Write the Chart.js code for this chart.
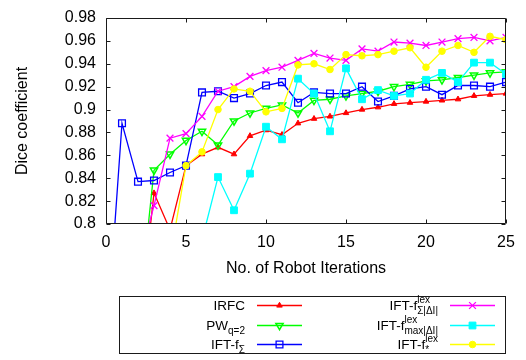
<!DOCTYPE html>
<html><head><meta charset="utf-8">
<script src="https://cdn.jsdelivr.net/npm/chart.js@4/dist/chart.umd.min.js"></script>
<style>html,body{margin:0;padding:0;background:#fff}#wrap{width:526px;height:360px}</style>
</head><body><div id="wrap"><canvas id="c" width="526" height="360"></canvas></div>
<script>
const iterations = [0,1,2,3,4,5,6,7,8,9,10,11,12,13,14,15,16,17,18,19,20,21,22,23,24,25];
const irfc   = [null,null,0.700,0.827,0.795,0.851,0.861,0.867,0.861,0.877,0.882,0.878,0.888,0.892,0.894,0.897,0.900,0.902,0.905,0.906,0.907,0.908,0.909,0.912,0.913,0.914];
const pwq2   = [null,null,0.713,0.847,0.861,0.873,0.881,0.869,0.890,0.897,0.901,0.904,0.897,0.908,0.909,0.912,0.914,0.916,0.920,0.922,0.925,0.926,0.928,0.930,0.932,0.933];
const iftSum = [0.690,0.888,0.837,0.838,0.845,0.851,0.915,0.916,0.910,0.914,0.921,0.924,0.906,0.915,0.914,0.914,0.920,0.907,0.912,0.918,0.920,0.913,0.921,0.921,0.920,0.924];
const iftLexSum = [null,null,0.763,0.816,0.875,0.879,0.894,0.916,0.920,0.929,0.934,0.937,0.943,0.949,0.945,0.943,0.953,0.951,0.959,0.958,0.956,0.959,0.962,0.963,0.960,0.963];
const iftLexMax = [null,null,null,null,null,null,0.786,0.841,0.812,0.844,0.885,0.874,0.927,0.914,0.881,0.936,0.909,0.917,0.912,0.914,0.926,0.932,0.924,0.941,0.941,0.931];
const iftLexStar = [null,null,null,null,0.770,0.851,0.863,0.900,0.918,0.916,0.898,0.901,0.939,0.940,0.935,0.948,0.947,0.948,0.951,0.954,0.937,0.951,0.956,0.950,0.964,0.961];

const xTicks = [0,5,10,15,20,25];
const xTickLabels = ['0','5','10','15','20','25'];
const yTicks = [0.8,0.82,0.84,0.86,0.88,0.9,0.92,0.94,0.96,0.98];
const yTickLabels = ['0.8','0.82','0.84','0.86','0.88','0.9','0.92','0.94','0.96','0.98'];

const legendEntries = [
  {main:'IRFC', sup:'', sub:''},
  {main:'PW', sup:'', sub:'q=2'},
  {main:'IFT-f', sup:'', sub:'Σ'},
  {main:'IFT-f', sup:'lex', sub:'Σ|ΔI|'},
  {main:'IFT-f', sup:'lex', sub:'max|ΔI|'},
  {main:'IFT-f', sup:'lex', sub:'*'}
];

const FONT = '"Liberation Sans", Arial, Helvetica, sans-serif';

function pts(arr){ return iterations.map((x,i)=>({x:x, y:arr[i]})); }

const styles = [
  {c:'#ff0000', ps:'triangle', r:3.2, rot:0, fill:true, bw:1},
  {c:'#00ff00', ps:'triangle', r:4.2, rot:180, fill:false, bw:1.5},
  {c:'#0000ff', ps:'rect', r:4.8, rot:0, fill:false, bw:1.3},
  {c:'#ff00ff', ps:'crossRot', r:4.8, rot:0, fill:false, bw:1.3},
  {c:'#00ffff', ps:'rect', r:4.8, rot:0, fill:true, bw:1},
  {c:'#ffff00', ps:'circle', r:3.3, rot:0, fill:true, bw:1}
];
const seriesData = [irfc, pwq2, iftSum, iftLexSum, iftLexMax, iftLexStar];

const datasets = seriesData.map((d,i)=>{
  const s = styles[i];
  return {
    label: legendEntries[i].main + legendEntries[i].sup + legendEntries[i].sub,
    data: pts(d),
    borderColor: s.c,
    backgroundColor: s.c,
    borderWidth: 1.3,
    pointStyle: s.ps,
    pointRadius: s.r,
    pointRotation: s.rot,
    pointBorderColor: s.c,
    pointBackgroundColor: s.fill ? s.c : 'rgba(0,0,0,0)',
    pointBorderWidth: s.bw,
    tension: 0,
    spanGaps: false,
    clip: 0,
    order: 5 - i
  };
});

const framePlugin = {
  id: 'frame',
  afterDatasetsDraw(chart){
    const ctx = chart.ctx, a = chart.chartArea;
    const xs = chart.scales.x, ys = chart.scales.y;
    const L = Math.round(a.left)+0.5, R = Math.round(a.right)-0.5, T = Math.round(a.top)+0.5, B = Math.round(a.bottom)-0.5;
    ctx.save();
    ctx.strokeStyle = '#1a1a1a';
    ctx.lineWidth = 1;
    ctx.beginPath();
    ctx.rect(L, T, R-L, B-T);
    const tl = 4;
    xTicks.forEach(v=>{
      const px = Math.round(xs.getPixelForValue(v))+0.5;
      ctx.moveTo(px, B); ctx.lineTo(px, B-tl);
      ctx.moveTo(px, T); ctx.lineTo(px, T+tl);
    });
    yTicks.forEach(v=>{
      const py = Math.round(ys.getPixelForValue(v))+0.5;
      ctx.moveTo(L, py); ctx.lineTo(L+tl, py);
      ctx.moveTo(R, py); ctx.lineTo(R-tl, py);
    });
    ctx.stroke();
    ctx.restore();
  },
  afterDraw(chart){
    const ctx = chart.ctx;
    ctx.save();
    // legend box
    ctx.strokeStyle = '#1a1a1a';
    ctx.lineWidth = 1;
    ctx.strokeRect(119.5, 296.5, 386, 57);
    const cols = [{tr:245, l0:257, l1:302},{tr:438, l0:450, l1:495}];
    const rows = [305, 325, 344];
    const mainFont = '13.5px ' + FONT, smallFont = '10px ' + FONT;
    legendEntries.forEach((e,i)=>{
      const col = cols[Math.floor(i/3)], y = rows[i%3];
      ctx.font = mainFont;
      const wm = ctx.measureText(e.main).width;
      ctx.font = smallFont;
      const ws = Math.max(e.sup ? ctx.measureText(e.sup).width : 0, e.sub ? ctx.measureText(e.sub).width : 0);
      const x0 = col.tr - wm - ws;
      ctx.fillStyle = '#000';
      ctx.textAlign = 'left';
      ctx.textBaseline = 'alphabetic';
      ctx.font = mainFont;
      ctx.fillText(e.main, x0, y + 5);
      ctx.font = smallFont;
      if (e.sup) ctx.fillText(e.sup, x0 + wm, y - 2);
      if (e.sub) ctx.fillText(e.sub, x0 + wm, y + 9);
      const ds = chart.data.datasets[i];
      ctx.strokeStyle = ds.borderColor;
      ctx.lineWidth = ds.borderWidth;
      ctx.beginPath(); ctx.moveTo(col.l0, y+0.5); ctx.lineTo(col.l1, y+0.5); ctx.stroke();
      ctx.fillStyle = ds.pointBackgroundColor;
      ctx.strokeStyle = ds.pointBorderColor;
      ctx.lineWidth = ds.pointBorderWidth;
      const mx = (col.l0 + col.l1)/2;
      if (Chart.helpers && Chart.helpers.drawPoint) {
        Chart.helpers.drawPoint(ctx, {pointStyle: ds.pointStyle, radius: ds.pointRadius, rotation: ds.pointRotation, borderWidth: ds.pointBorderWidth}, mx, y+0.5);
      }
    });
    ctx.restore();
  }
};

new Chart(document.getElementById('c'), {
  type: 'line',
  data: { datasets: datasets },
  options: {
    responsive: false,
    animation: false,
    devicePixelRatio: 1,
    layout: { padding: {left:0, right:20, top:9, bottom:78} },
    plugins: { legend: {display:false}, tooltip: {enabled:false} },
    elements: { line: { fill:false } },
    scales: {
      x: {
        type: 'linear', min: 0, max: 25,
        grid: { display:false, drawTicks:false },
        border: { display:false },
        afterBuildTicks: s => { s.ticks = xTicks.map(v=>({value:v})); },
        afterFit: s => { s.height = 58; },
        ticks: { color:'#000', padding: 11, maxRotation:0, autoSkip:false,
          font: {family: FONT, size: 16, lineHeight: 1},
          callback: (v,i) => xTickLabels[i] },
        title: { display:true, text:'No. of Robot Iterations', color:'#000',
          font: {family: FONT, size: 16, lineHeight: 1.2}, padding: {top:0, bottom:3.4} }
      },
      y: {
        type: 'linear', min: 0.8, max: 0.98,
        grid: { display:false, drawTicks:false },
        border: { display:false },
        afterBuildTicks: s => { s.ticks = yTicks.map(v=>({value:v})); },
        afterFit: s => { s.width = 106; },
        ticks: { color:'#000', padding: 10, autoSkip:false,
          font: {family: FONT, size: 16, lineHeight: 1},
          callback: (v,i) => yTickLabels[i] },
        title: { display:true, text:'Dice coefficient', color:'#000',
          font: {family: FONT, size: 16, lineHeight: 1.2}, padding: {top:13.4, bottom:0} }
      }
    }
  },
  plugins: [framePlugin]
});
</script>
</body></html>
